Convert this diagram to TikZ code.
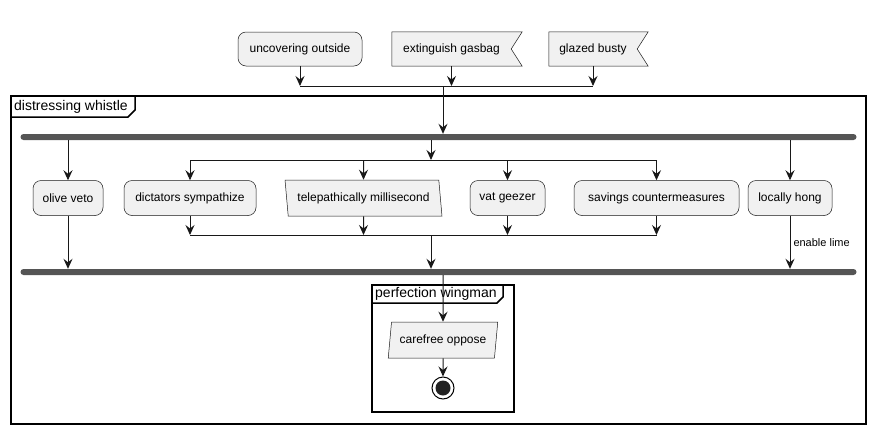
\documentclass[tikz,border=0pt]{standalone}
\usepackage{fontspec}
\setmainfont{Liberation Sans}
\usetikzlibrary{arrows.meta,shapes.geometric,backgrounds}
\definecolor{boxfill}{HTML}{F1F1F1}
\definecolor{boxline}{HTML}{181818}
\definecolor{barfill}{HTML}{555555}
\definecolor{stopfill}{HTML}{222222}

\begin{document}
\begin{tikzpicture}[x=1pt,y=-1pt,>={Stealth[length=10pt,width=9pt,inset=3.5pt]},
  act node/.style={rectangle,rounded corners=8pt,draw=boxline,line width=0.5pt,fill=boxfill,minimum height=35pt,inner sep=0pt,font=\fontsize{12}{14}\selectfont},
  sig node/.style={rectangle,minimum height=34pt,inner sep=0pt,font=\fontsize{12}{14}\selectfont},
  io node/.style={trapezium,trapezium stretches=true,draw=boxline,line width=0.5pt,fill=boxfill,minimum height=36pt,inner sep=0pt,font=\fontsize{12}{14}\selectfont},
  bar node/.style={rectangle,rounded corners=3pt,fill=barfill,minimum width=836pt,minimum height=6pt,inner sep=0pt},
  frame label/.style={anchor=west,inner sep=0pt,font=\fontsize{14}{16}\selectfont},
  flow/.style={draw=boxline,line width=1pt,->},
  plain/.style={draw=boxline,line width=1pt},
  frame/.style={draw=black,line width=1.5pt}]
  \useasboundingbox (0,0) rectangle (876,434);

  % start nodes
  \node[act node,minimum width=124pt,minimum height=34pt] (uncover) at (300,49) {uncovering outside};
  \node[sig node,minimum width=119pt] (gasbag) at (451.5,49) {extinguish gasbag};
  \node[sig node,minimum width=88pt] (busty) at (593,49) {glazed busty};
  \begin{scope}[on background layer]
    \foreach \s in {gasbag,busty}
      \filldraw[fill=boxfill,draw=boxline,line width=0.5pt] (\s.north west) -- ([xshift=11pt]\s.north east) -- (\s.east) -- ([xshift=11pt]\s.south east) -- (\s.south west) -- cycle;
  \end{scope}
  \coordinate (topmerge) at (443,86);

  % outer frame
  \draw[frame] (11,96) rectangle (866,424);
  \draw[frame] (11,117) -- (128,117) -- (135,110) -- (135,96);
  \node[frame label] (whistle) at (14,107) {distressing whistle};

  \node[bar node] (fork) at (438.5,137) {};
  \node[bar node] (join) at (438.5,272) {};
  \coordinate (split) at (431,160);
  \coordinate (merge) at (431,235);

  \node[act node,minimum width=70pt] (olive) at (68,198) {olive veto};
  \node[act node,minimum width=132pt] (dict) at (190,198) {dictators sympathize};
  \node[io node,trapezium left angle=104,trapezium right angle=76,minimum width=157pt] (tele) at (363.5,198) {telepathically millisecond};
  \node[act node,minimum width=75pt] (vat) at (507.5,198) {vat geezer};
  \node[act node,minimum width=165pt] (savings) at (656.5,198) {savings countermeasures};
  \node[act node,minimum width=84pt] (hong) at (790,198) {locally hong};

  % inner frame
  \draw[frame] (372,285) rectangle (514,412);
  \draw[frame] (372,303) -- (497,303) -- (503,297) -- (503,285);
  \node[frame label] (wingman) at (375,294) {perfection wingman};

  \node[io node,trapezium left angle=76,trapezium right angle=104,minimum width=110pt] (oppose) at (443,340) {carefree oppose};
  \node[circle,draw=black,line width=1pt,fill=white,minimum size=22pt,inner sep=0pt,
    path picture={\fill[stopfill] (path picture bounding box.center) circle (7.5pt);}] (stop) at (443,388) {};

  \draw[plain] (uncover |- topmerge) -- (busty |- topmerge);
  \draw[plain] (split -| dict) -- (split -| savings);
  \draw[plain] (merge -| dict) -- (merge -| savings);

  \path[every edge/.style={flow}]
    (uncover.south) edge (uncover |- topmerge)
    (gasbag.south) edge (gasbag |- topmerge)
    (busty.south) edge (busty |- topmerge)
    (topmerge) edge (topmerge |- fork.north)

    (fork.south -| olive) edge (olive.north)
    (fork.south -| split) edge (split)
    (fork.south -| hong) edge (hong.north)
    (split -| dict) edge (dict.north)
    (split -| tele) edge (tele.north)
    (split -| vat) edge (vat.north)
    (split -| savings) edge (savings.north)

    (dict.south) edge (merge -| dict)
    (tele.south) edge (merge -| tele)
    (vat.south) edge (merge -| vat)
    (savings.south) edge (merge -| savings)
    (merge) edge (merge |- join.north)
    (olive.south) edge (olive |- join.north)
    (hong.south) edge node[right,inner sep=3pt,font=\fontsize{11}{13}\selectfont] {enable lime} (hong |- join.north)

    (join.south -| oppose) edge (oppose.north)
    (oppose.south) edge (stop.north)
  ;
\end{tikzpicture}
\end{document}
